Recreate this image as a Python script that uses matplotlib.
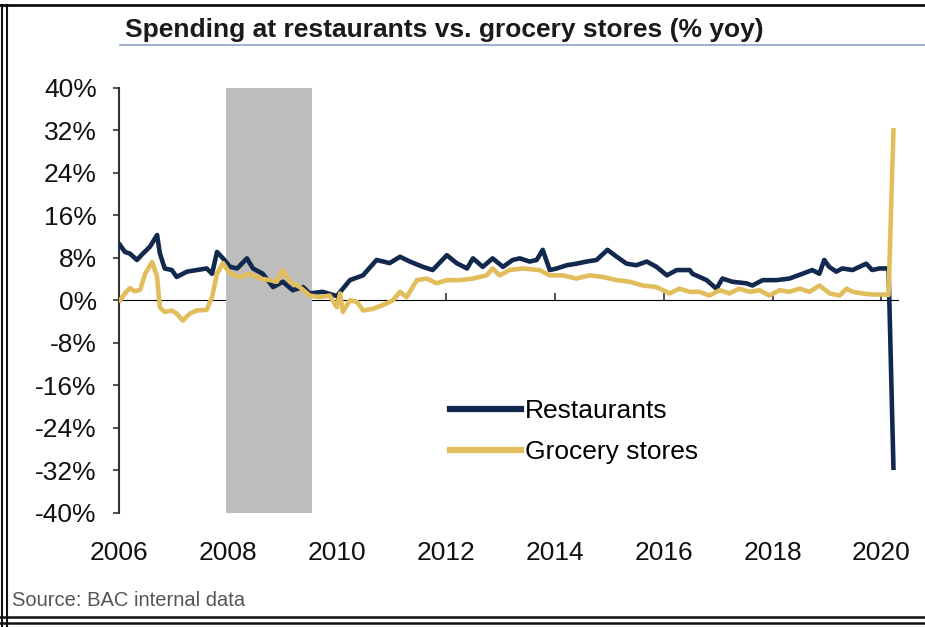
import numpy as np
import matplotlib.pyplot as plt
from matplotlib.lines import Line2D

# data (year, % yoy)
rest_t = [2006.02, 2006.11, 2006.20, 2006.33, 2006.44, 2006.57, 2006.70, 2006.75, 2006.84, 2006.97,
          2007.06, 2007.25, 2007.43, 2007.61, 2007.71, 2007.80, 2007.91, 2008.04, 2008.17, 2008.35,
          2008.46, 2008.64, 2008.83, 2009.01, 2009.19, 2009.38, 2009.50, 2009.74, 2010.00, 2010.24,
          2010.48, 2010.73, 2010.97, 2011.16, 2011.34, 2011.58, 2011.76, 2012.02, 2012.20, 2012.39,
          2012.50, 2012.68, 2012.86, 2013.05, 2013.23, 2013.36, 2013.54, 2013.67, 2013.78, 2013.91,
          2014.04, 2014.22, 2014.40, 2014.59, 2014.77, 2014.97, 2015.14, 2015.32, 2015.50, 2015.69,
          2015.87, 2016.06, 2016.24, 2016.48, 2016.53, 2016.79, 2016.97, 2017.08, 2017.26, 2017.52,
          2017.63, 2017.82, 2018.07, 2018.31, 2018.55, 2018.73, 2018.86, 2018.95, 2019.04, 2019.17,
          2019.28, 2019.47, 2019.72, 2019.83, 2019.96, 2020.13, 2020.22]
rest_v = [10.4, 9.1, 8.8, 7.6, 8.8, 10.1, 12.3, 8.9, 6.0, 5.7,
          4.4, 5.4, 5.7, 6.0, 5.0, 9.1, 7.9, 6.3, 6.0, 7.9,
          6.0, 5.0, 2.5, 3.5, 1.9, 2.5, 1.3, 1.6, 0.8, 3.8,
          4.7, 7.6, 7.0, 8.2, 7.3, 6.3, 5.7, 8.5, 7.0, 6.0,
          7.9, 6.3, 7.9, 6.3, 7.6, 7.9, 7.3, 7.6, 9.5, 5.7,
          6.0, 6.6, 6.9, 7.3, 7.6, 9.5, 8.2, 6.9, 6.6, 7.3,
          6.3, 4.7, 5.7, 5.7, 5.0, 3.8, 2.2, 4.1, 3.5, 3.2,
          2.8, 3.8, 3.8, 4.1, 5.0, 5.7, 5.0, 7.6, 6.3, 5.4,
          6.0, 5.7, 6.9, 5.7, 6.0, 6.0, -31.5]

groc_t = [2006.02, 2006.11, 2006.20, 2006.29, 2006.39, 2006.48, 2006.61, 2006.70, 2006.75, 2006.84,
          2006.97, 2007.06, 2007.17, 2007.30, 2007.43, 2007.61, 2007.71, 2007.80, 2007.91, 2008.04,
          2008.22, 2008.40, 2008.59, 2008.77, 2008.90, 2009.01, 2009.14, 2009.32, 2009.50, 2009.69,
          2009.87, 2010.00, 2010.06, 2010.11, 2010.24, 2010.37, 2010.48, 2010.66, 2010.84, 2011.03,
          2011.16, 2011.28, 2011.47, 2011.65, 2011.83, 2012.02, 2012.26, 2012.50, 2012.75, 2012.86,
          2012.99, 2013.17, 2013.41, 2013.72, 2013.91, 2014.15, 2014.40, 2014.64, 2014.88, 2015.14,
          2015.38, 2015.61, 2015.87, 2016.11, 2016.29, 2016.48, 2016.66, 2016.84, 2017.03, 2017.21,
          2017.39, 2017.58, 2017.76, 2017.94, 2018.13, 2018.31, 2018.50, 2018.68, 2018.86, 2019.05,
          2019.23, 2019.36, 2019.47, 2019.65, 2019.83, 2020.02, 2020.13, 2020.22]
groc_v = [0.0, 1.3, 2.3, 1.7, 2.0, 5.0, 7.2, 4.4, -1.3, -2.2,
          -1.9, -2.5, -3.8, -2.5, -1.9, -1.8, 0.6, 5.0, 7.0, 5.0,
          4.4, 5.0, 4.1, 3.8, 3.5, 5.7, 3.5, 2.5, 0.9, 0.6,
          0.9, -1.3, 1.3, -2.2, 0.0, -0.3, -1.9, -1.6, -0.9, 0.0,
          1.6, 0.6, 3.8, 4.1, 3.2, 3.8, 3.8, 4.1, 4.7, 6.0,
          4.7, 5.7, 6.0, 5.7, 4.7, 4.7, 4.1, 4.7, 4.4, 3.8,
          3.5, 2.8, 2.5, 1.3, 2.2, 1.6, 1.6, 0.9, 1.9, 1.3,
          2.2, 1.6, 1.9, 0.9, 1.9, 1.6, 2.2, 1.6, 2.8, 1.3,
          0.9, 2.2, 1.6, 1.3, 1.1, 1.1, 1.0, 32.0]

recession = (2007.96, 2009.55)
years = [2006, 2008, 2010, 2012, 2014, 2016, 2018, 2020]
pct = [40, 32, 24, 16, 8, 0, -8, -16, -24, -32, -40]

navy = '#13284f'
gold = '#e2bd5b'

plt.rcParams['font.family'] = ['Liberation Sans', 'DejaVu Sans']

fig = plt.figure(figsize=(9.25, 6.27), dpi=100)
ax = fig.add_axes([0.1286, 0.182, 0.842, 0.678])

ax.axvspan(recession[0], recession[1], color='#bdbdbd', lw=0, zorder=1)
ax.plot(rest_t, rest_v, color=navy, lw=3.3, label='Restaurants', zorder=3)
ax.plot(groc_t, groc_v, color=gold, lw=3.3, label='Grocery stores', zorder=3)

ax.set_xlim(2006, 2020.3)
ax.set_ylim(-40, 40)
ax.set_yticks(pct)
ax.set_yticklabels([f'{p}%' for p in pct])
ax.set_xticks(years)
ax.set_xticklabels([str(y) for y in years])

for s in ['top', 'right', 'bottom']:
    ax.spines[s].set_visible(False)
ax.spines['left'].set_color('#333333')
ax.spines['left'].set_linewidth(1.5)
ax.tick_params(axis='y', direction='out', length=4, width=1.2, color='#333333',
               labelsize=19, pad=12, labelcolor='#111111')
ax.tick_params(axis='x', length=0, labelsize=19, pad=20, labelcolor='#111111')

# zero line with year ticks
sec = ax.secondary_xaxis(0.5)
sec.set_xticks(years)
sec.set_xticklabels([''] * len(years))
sec.spines['bottom'].set_color('#333333')
sec.spines['bottom'].set_linewidth(1.5)
sec.tick_params(axis='x', direction='out', length=5, width=1.2, color='#333333')

leg = ax.legend(loc='upper left', bbox_to_anchor=(450 / 925, 1 - 399 / 627),
                bbox_transform=fig.transFigure, frameon=False, fontsize=19,
                handlelength=2.7, handletextpad=0.15, labelspacing=0.66,
                borderpad=0, borderaxespad=0)
for h in leg.get_lines():
    h.set_linewidth(4.5)

fig.text(125 / 925, 1 - 30 / 627, 'Spending at restaurants vs. grocery stores (% yoy)',
         family=['Liberation Sans Narrow', 'Liberation Sans'], fontweight='bold',
         fontsize=19, color='#1a1a1a', ha='left', va='center')
fig.add_artist(Line2D([120 / 925, 1.0], [1 - 45 / 627, 1 - 45 / 627],
                      transform=fig.transFigure, color='#8fa3c4', lw=1.2))

fig.text(12 / 925, 1 - 601 / 627, 'Source: BAC internal data',
         family=['Liberation Sans Narrow', 'Liberation Sans'],
         fontsize=14.5, color='#555555', ha='left', va='center')

# frame lines of the original image
for xx in [2 / 925, 7 / 925]:
    fig.add_artist(Line2D([xx, xx], [0, 1 - 5 / 627], transform=fig.transFigure,
                          color='#111111', lw=1.5))
for yy in [1 - 617 / 627, 1 - 623 / 627]:
    fig.add_artist(Line2D([0, 1], [yy, yy], transform=fig.transFigure,
                          color='#111111', lw=1.8))
fig.add_artist(Line2D([0, 1], [1 - 5 / 627, 1 - 5 / 627], transform=fig.transFigure,
                      color='#111111', lw=2))

fig.savefig('out.png', dpi=100)
